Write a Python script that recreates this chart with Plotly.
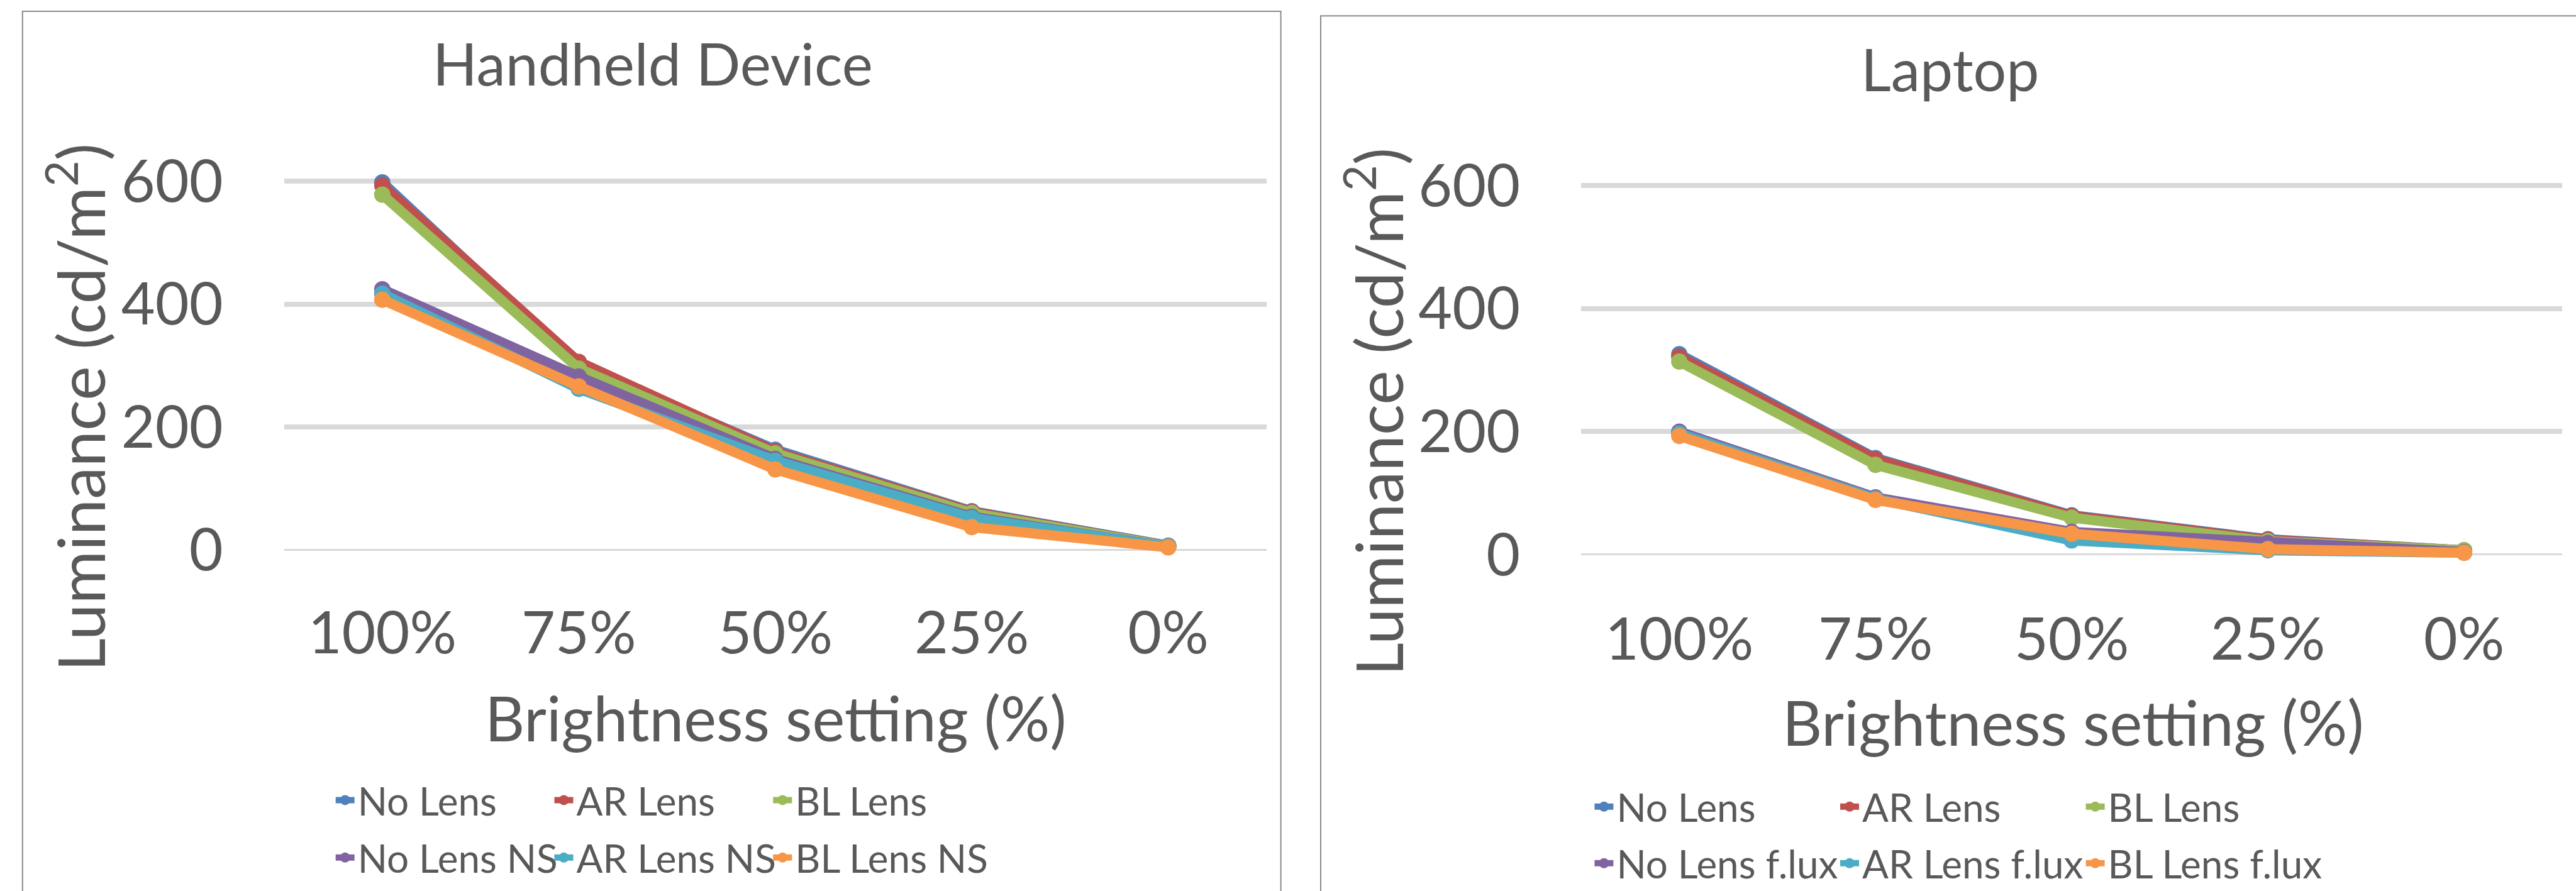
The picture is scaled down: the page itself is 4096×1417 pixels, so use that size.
import plotly.graph_objects as go

# ---------------- data ----------------
categories = ["100%", "75%", "50%", "25%", "0%"]

hand_no_lens = [598, 300, 163, 63, 7]
hand_ar_lens = [593, 306, 160, 62, 6]
hand_bl_lens = [578, 295, 157, 60, 6]
hand_no_lens_ns = [424, 282, 148, 54, 5]
hand_ar_lens_ns = [417, 262, 145, 52, 5]
hand_bl_lens_ns = [407, 266, 131, 37, 4]

lap_no_lens = [326, 157, 64, 25, 7]
lap_ar_lens = [322, 155, 63, 24, 7]
lap_bl_lens = [314, 146, 60, 22, 7]
lap_no_lens_flux = [200, 93, 37, 19, 4]
lap_ar_lens_flux = [197, 91, 23, 7, 3]
lap_bl_lens_flux = [193, 89, 34, 9, 3]

hand_names = ["No Lens", "AR Lens", "BL Lens", "No Lens NS", "AR Lens NS", "BL Lens NS"]
lap_names = ["No Lens", "AR Lens", "BL Lens", "No Lens f.lux", "AR Lens f.lux", "BL Lens f.lux"]
series_colors = ["#4F81BD", "#C0504D", "#9BBB59", "#8064A2", "#4BACC6", "#F79646"]

y_tick_vals = [0, 200, 400, 600]
titles = ["Handheld Device", "Laptop"]
x_title = "Brightness setting (%)"
y_title = "Luminance (cd/m<sup>2</sup>)"

# ---------------- layout constants (pixels) ----------------
W, H = 4096, 1417
FONT = "Lato, 'Open Sans', sans-serif"
TXT = "#595959"
GRID = "#D9D9D9"
PAD = 8  # axis padding in data units

def px2x(p):
    return p / W

def px2y(p):
    return 1 - p / H

def ydomain(top600, bottom0):
    k = (bottom0 - top600) / 600.0
    top = top600 - PAD * k
    bot = bottom0 + PAD * k
    return [px2y(bot), px2y(top)]

# left panel plot area
L_x = [px2x(451.6), px2x(2013.8)]
L_y = ydomain(288.0, 874.5)
# right panel plot area
R_x = [px2x(2514.2), px2x(4074.0)]
R_y = ydomain(295.4, 882.0)

fig = go.Figure()

hand_data = [hand_no_lens, hand_ar_lens, hand_bl_lens, hand_no_lens_ns, hand_ar_lens_ns, hand_bl_lens_ns]
lap_data = [lap_no_lens, lap_ar_lens, lap_bl_lens, lap_no_lens_flux, lap_ar_lens_flux, lap_bl_lens_flux]

LW, MS = 16, 26

for i, (nm, vals) in enumerate(zip(hand_names, hand_data)):
    fig.add_trace(go.Scatter(
        x=categories, y=vals, name=nm, mode="lines+markers",
        line=dict(color=series_colors[i], width=LW),
        marker=dict(color=series_colors[i], size=MS, line=dict(width=0)),
        xaxis="x", yaxis="y", cliponaxis=False,
        legend="legend" if i < 3 else "legend2",
    ))

for i, (nm, vals) in enumerate(zip(lap_names, lap_data)):
    fig.add_trace(go.Scatter(
        x=categories, y=vals, name=nm, mode="lines+markers",
        line=dict(color=series_colors[i], width=LW),
        marker=dict(color=series_colors[i], size=MS, line=dict(width=0)),
        xaxis="x2", yaxis="y2", cliponaxis=False,
        legend="legend3" if i < 3 else "legend4",
    ))

def xaxis(domain, anchor, standoff):
    return dict(
        domain=domain, anchor=anchor, type="category",
        categoryorder="array", categoryarray=categories,
        range=[-0.5, 4.5], showgrid=False, zeroline=False,
        showline=False, ticks="", ticklabelstandoff=standoff,
        tickfont=dict(family=FONT, size=93, color=TXT), fixedrange=True,
        automargin=False,
    )

def yaxis(domain, anchor, standoff):
    return dict(
        domain=domain, anchor=anchor, range=[-PAD, 600 + PAD],
        tickvals=y_tick_vals, ticktext=[str(v) for v in y_tick_vals],
        showgrid=True, gridcolor=GRID, gridwidth=8,
        zeroline=True, zerolinecolor=GRID, zerolinewidth=2.5,
        showline=False, ticks="", ticklabelstandoff=standoff,
        tickfont=dict(family=FONT, size=93, color=TXT), fixedrange=True,
        automargin=False,
    )

def legend(xpx, ypx, ew):
    return dict(
        orientation="h", x=px2x(xpx), xanchor="left", y=px2y(ypx), yanchor="middle",
        font=dict(family=FONT, size=62, color=TXT), entrywidth=ew, entrywidthmode="pixels",
        bgcolor="rgba(0,0,0,0)", borderwidth=0, itemclick=False, itemdoubleclick=False,
        tracegroupgap=0,
    )

ann = []
def text(t, xpx, ypx, size=93, angle=0):
    ann.append(dict(text=t, x=px2x(xpx), y=px2y(ypx), xref="paper", yref="paper",
                    xanchor="center", yanchor="middle", showarrow=False, textangle=angle,
                    font=dict(family=FONT, size=size, color=TXT)))

text(titles[0], 1038, 100.5)
text(titles[1], 3100, 109)
text(x_title, 1233, 1141, size=98)
text(x_title, 3296, 1148, size=98)
text(y_title, 121, 648, size=103, angle=-90)
text(y_title, 2185, 655, size=103, angle=-90)

shapes = [
    dict(type="rect", xref="paper", yref="paper", x0=px2x(35.8), x1=px2x(2036.6),
         y0=px2y(1500), y1=px2y(17.9), line=dict(color="#8A8A8A", width=2), fillcolor="rgba(0,0,0,0)", layer="below"),
    dict(type="rect", xref="paper", yref="paper", x0=px2x(2100), x1=px2x(4150),
         y0=px2y(1500), y1=px2y(25.2), line=dict(color="#8A8A8A", width=2), fillcolor="rgba(0,0,0,0)", layer="below"),
]

fig.update_layout(
    width=W, height=H, autosize=False,
    margin=dict(l=0, r=0, t=0, b=0, pad=0, autoexpand=False),
    paper_bgcolor="white", plot_bgcolor="rgba(0,0,0,0)",
    showlegend=True,
    xaxis=xaxis(L_x, "y", 63), yaxis=yaxis(L_y, "x", 96),
    xaxis2=xaxis(R_x, "y2", 65), yaxis2=yaxis(R_y, "x2", 96),
    legend=legend(568.7 - 40, 1272.6, 302.8),
    legend2=legend(568.7 - 40, 1364.0, 302.8),
    legend3=legend(2570.4 - 40, 1283.0, 345.6),
    legend4=legend(2570.4 - 40, 1373.0, 345.6),
    annotations=ann, shapes=shapes,
    font=dict(family=FONT, color=TXT),
)

fig.write_html("out.html")
